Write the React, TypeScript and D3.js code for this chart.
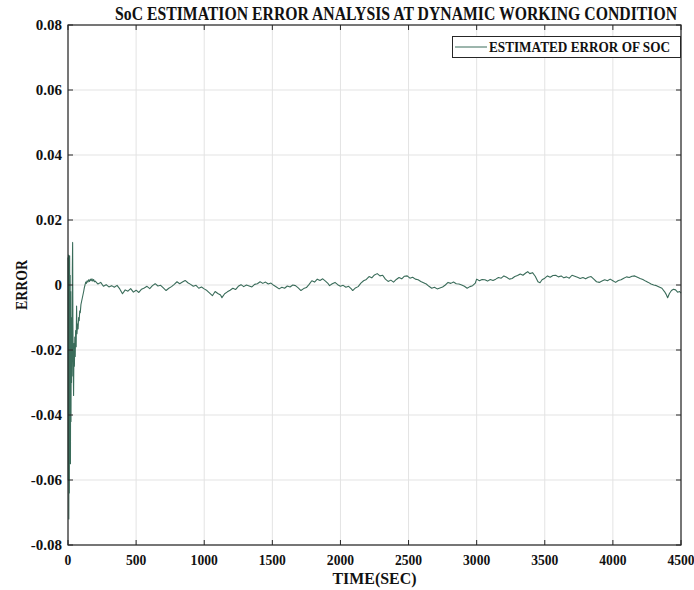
import React from "react";
import * as d3 from "d3";

const TITLE = "SoC ESTIMATION ERROR ANALYSIS AT DYNAMIC WORKING CONDITION";
const X_LABEL = "TIME(SEC)";
const Y_LABEL = "ERROR";
const LEGEND_LABEL = "ESTIMATED ERROR OF SOC";

const xTicks = [0, 500, 1000, 1500, 2000, 2500, 3000, 3500, 4000, 4500];
const xTickLabels = ["0", "500", "1000", "1500", "2000", "2500", "3000", "3500", "4000", "4500"];
const yTicks = [-0.08, -0.06, -0.04, -0.02, 0, 0.02, 0.04, 0.06, 0.08];
const yTickLabels = ["-0.08", "-0.06", "-0.04", "-0.02", "0", "0.02", "0.04", "0.06", "0.08"];

// early transient [time, error]
const transientSeries: [number, number][] = [
  [0, 0.0085], [2, -0.06], [4, 0.0092], [6, -0.072], [8, 0.006], [10, -0.064], [12, 0.009],
  [14, -0.048], [16, 0.003], [18, -0.055], [20, -0.002], [22, -0.042], [24, -0.01], [26, -0.03],
  [28, -0.015], [30, -0.028], [32, 0.005], [34, 0.0131], [36, -0.012], [38, -0.022], [41, -0.034],
  [44, -0.018], [47, -0.025], [50, -0.016], [53, -0.022], [56, -0.014], [60, -0.019], [63, -0.0065],
  [66, -0.015], [70, -0.012], [74, -0.0135], [78, -0.01], [82, -0.011], [86, -0.008], [90, -0.0085],
  [95, -0.006], [100, -0.005], [105, -0.004], [110, -0.003], [115, -0.002], [120, -0.0008],
  [125, 0.0], [130, 0.0009], [135, 0.0005], [140, 0.0013], [146, 0.0009], [152, 0.0016],
  [158, 0.0011], [164, 0.0018], [170, 0.0013], [176, 0.0019], [182, 0.0012], [188, 0.0017],
  [194, 0.001],
];

// remaining run [time, error]
const steadySeries: [number, number][] = [
  [200, 0.0012], [220, 0.0003], [240, 0.0008], [260, -0.0004], [280, 0.0001], [300, -0.0006],
  [320, -0.0002], [340, -0.0007], [360, -0.0001], [380, -0.0012], [400, -0.0027], [420, -0.0015],
  [440, -0.0019], [460, -0.0011], [480, -0.0022], [500, -0.0016], [520, -0.0023], [540, -0.0013],
  [560, -0.0009], [580, -0.0004], [600, -0.0011], [620, -0.0002], [640, 0.0004], [660, -0.0003],
  [680, -0.0001], [700, -0.0009], [720, -0.0017], [740, -0.001], [760, -0.0005], [780, 0.0002],
  [800, 0.001], [820, 0.0004], [840, 0.0009], [860, 0.0014], [880, 0.0007], [900, 0.0002],
  [920, -0.0004], [940, -0.0001], [960, -0.001], [980, -0.0006], [1000, -0.0012], [1020, -0.0017],
  [1040, -0.0025], [1060, -0.0033], [1080, -0.002], [1100, -0.0026], [1120, -0.0031], [1130, -0.0039],
  [1150, -0.0027], [1170, -0.0021], [1190, -0.0016], [1210, -0.001], [1230, -0.0014], [1250, -0.0004],
  [1270, 0.0001], [1290, -0.0005], [1310, 0.0], [1330, -0.0003], [1350, -0.0006], [1370, 0.0002],
  [1390, 0.0004], [1410, 0.001], [1430, 0.0005], [1450, 0.0009], [1470, 0.0003], [1490, 0.0006],
  [1510, -0.0001], [1530, -0.0006], [1550, -0.0012], [1570, -0.0007], [1590, -0.001], [1610, -0.0003],
  [1630, -0.0006], [1650, 0.0], [1670, -0.0002], [1690, -0.0009], [1710, -0.0017], [1730, -0.0011],
  [1750, -0.0008], [1770, 0.0002], [1790, 0.0013], [1810, 0.0009], [1830, 0.0018], [1850, 0.0014],
  [1870, 0.0019], [1890, 0.0012], [1910, 0.0004], [1920, -0.0002], [1940, 0.0004], [1960, 0.0008],
  [1980, 0.0001], [2000, -0.0004], [2020, -0.0001], [2040, -0.0007], [2060, -0.0004], [2080, -0.0012],
  [2090, -0.0017], [2110, -0.0009], [2130, -0.0005], [2150, 0.0006], [2170, 0.0013], [2190, 0.0017],
  [2210, 0.0026], [2230, 0.0022], [2250, 0.0031], [2270, 0.0035], [2290, 0.0028], [2310, 0.003],
  [2330, 0.0018], [2350, 0.0011], [2370, 0.0015], [2390, 0.0009], [2410, 0.0017], [2430, 0.0023],
  [2450, 0.0019], [2470, 0.0027], [2490, 0.0028], [2510, 0.0021], [2530, 0.0024], [2550, 0.0018],
  [2570, 0.0016], [2590, 0.0011], [2610, 0.0007], [2630, 0.0003], [2650, -0.0004], [2670, -0.001],
  [2690, -0.0007], [2710, -0.0012], [2730, -0.0009], [2750, -0.0006], [2770, 0.0], [2790, 0.0008],
  [2810, 0.0005], [2830, 0.0009], [2850, 0.0004], [2870, 0.0003], [2890, 0.0], [2910, -0.0004],
  [2930, -0.001], [2950, -0.0005], [2970, -0.0002], [2990, 0.0006], [3000, 0.0018], [3020, 0.0013],
  [3040, 0.0017], [3060, 0.0016], [3080, 0.0012], [3100, 0.0017], [3120, 0.0014], [3140, 0.0018],
  [3160, 0.0023], [3180, 0.0021], [3200, 0.0028], [3220, 0.0024], [3240, 0.0018], [3260, 0.002],
  [3280, 0.0026], [3300, 0.0029], [3320, 0.0034], [3340, 0.003], [3360, 0.0037], [3375, 0.0041],
  [3390, 0.0035], [3410, 0.0038], [3430, 0.0027], [3450, 0.001], [3465, 0.0007], [3480, 0.0016],
  [3500, 0.0021], [3520, 0.0028], [3540, 0.0024], [3560, 0.0029], [3580, 0.003], [3600, 0.0025],
  [3620, 0.0028], [3640, 0.0022], [3660, 0.0025], [3680, 0.0021], [3700, 0.003], [3720, 0.0027],
  [3740, 0.0024], [3760, 0.002], [3780, 0.0023], [3800, 0.0019], [3820, 0.0024], [3840, 0.0026],
  [3860, 0.0018], [3880, 0.001], [3900, 0.0008], [3920, 0.0012], [3940, 0.0016], [3960, 0.0013],
  [3980, 0.0018], [4000, 0.0013], [4020, 0.0008], [4040, 0.0014], [4060, 0.0016], [4080, 0.0021],
  [4100, 0.0025], [4120, 0.0023], [4140, 0.0027], [4160, 0.0028], [4180, 0.0024], [4200, 0.002],
  [4220, 0.0017], [4240, 0.0012], [4260, 0.0008], [4280, 0.0003], [4300, 0.0], [4320, -0.0002],
  [4340, -0.0006], [4360, -0.001], [4380, -0.0021], [4390, -0.0028], [4402, -0.0039], [4415, -0.0026],
  [4430, -0.0017], [4445, -0.0013], [4460, -0.0015], [4475, -0.0022], [4490, -0.002], [4500, -0.0025],
];

const W = 694;
const H = 590;
const M = { left: 68, right: 681, top: 25, bottom: 545 };
const FONT = "Liberation Serif";
const LINE_COLOR = "#3a6c5a";
const AXIS_COLOR = "#262626";
const GRID_COLOR = "#e3e3e3";
const textStyle = { fontFamily: FONT, fontWeight: 700 } as const;

export default function App() {
  const x = d3.scaleLinear().domain([0, 4500]).range([M.left, M.right]);
  const y = d3.scaleLinear().domain([-0.08, 0.08]).range([M.bottom, M.top]);
  const data = [...transientSeries, ...steadySeries];
  const line = d3
    .line<[number, number]>()
    .x((d) => x(d[0]))
    .y((d) => y(d[1]));
  const tickLen = 5;

  return (
    <div style={{ position: "absolute", left: 0, top: 0 }}>
      <svg width={W} height={H} style={{ display: "block", background: "#fff" }}>
        <rect x={0} y={0} width={W} height={H} fill="#fff" />
        {xTicks.map((t) => (
          <line key={"gx" + t} x1={x(t)} x2={x(t)} y1={M.top} y2={M.bottom} stroke={GRID_COLOR} strokeWidth={1} />
        ))}
        {yTicks.map((t) => (
          <line key={"gy" + t} x1={M.left} x2={M.right} y1={y(t)} y2={y(t)} stroke={GRID_COLOR} strokeWidth={1} />
        ))}
        <path d={line(data) || ""} fill="none" stroke={LINE_COLOR} strokeWidth={1.1} strokeLinejoin="round" />
        {xTicks.map((t) => (
          <g key={"tx" + t}>
            <line x1={x(t)} x2={x(t)} y1={M.bottom} y2={M.bottom - tickLen} stroke={AXIS_COLOR} />
            <line x1={x(t)} x2={x(t)} y1={M.top} y2={M.top + tickLen} stroke={AXIS_COLOR} />
          </g>
        ))}
        {yTicks.map((t) => (
          <g key={"ty" + t}>
            <line x1={M.left} x2={M.left + tickLen} y1={y(t)} y2={y(t)} stroke={AXIS_COLOR} />
            <line x1={M.right} x2={M.right - tickLen} y1={y(t)} y2={y(t)} stroke={AXIS_COLOR} />
          </g>
        ))}
        <rect x={M.left} y={M.top} width={M.right - M.left} height={M.bottom - M.top} fill="none" stroke={AXIS_COLOR} strokeWidth={1.2} />
        {xTicks.map((t, i) => (
          <text
            key={"lx" + t}
            x={x(t)}
            y={565}
            textAnchor="middle"
            style={{ ...textStyle, fontSize: 15 }}
            fill="#111"
            textLength={xTickLabels[i].length * 6.8}
            lengthAdjust="spacingAndGlyphs"
          >
            {xTickLabels[i]}
          </text>
        ))}
        {yTicks.map((t, i) => (
          <text key={"ly" + t} x={62} y={y(t) + 5} textAnchor="end" style={{ ...textStyle, fontSize: 15 }} fill="#111">
            {yTickLabels[i]}
          </text>
        ))}
        <text x={(M.left + M.right) / 2} y={584} textAnchor="middle" style={{ ...textStyle, fontSize: 17 }} fill="#111" textLength={84} lengthAdjust="spacingAndGlyphs">
          {X_LABEL}
        </text>
        <text transform={`translate(27, ${y(0)}) rotate(-90)`} textAnchor="middle" style={{ ...textStyle, fontSize: 17 }} fill="#111" textLength={50} lengthAdjust="spacingAndGlyphs">
          {Y_LABEL}
        </text>
        <text x={396} y={20} textAnchor="middle" style={{ ...textStyle, fontSize: 19 }} fill="#111" textLength={562} lengthAdjust="spacingAndGlyphs">
          {TITLE}
        </text>
        <rect x={452.5} y={36.5} width={228} height={21} fill="#fff" stroke={AXIS_COLOR} strokeWidth={1} />
        <line x1={455} x2={487} y1={47} y2={47} stroke={LINE_COLOR} strokeWidth={1} />
        <text x={489} y={52} style={{ ...textStyle, fontSize: 14 }} fill="#111" textLength={181} lengthAdjust="spacingAndGlyphs">
          {LEGEND_LABEL}
        </text>
      </svg>
    </div>
  );
}
